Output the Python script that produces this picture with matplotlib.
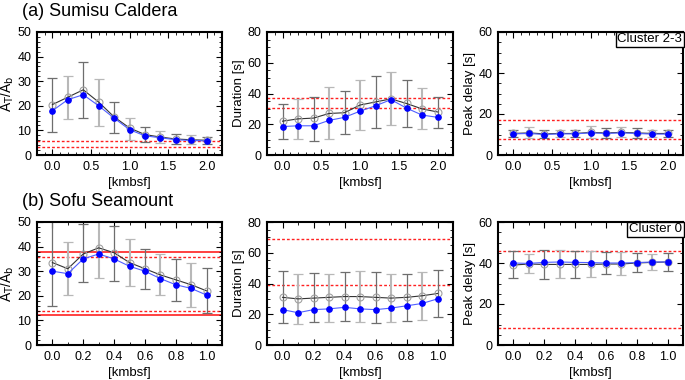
import matplotlib
matplotlib.use("Agg")
import matplotlib.pyplot as plt
from matplotlib.ticker import MultipleLocator, AutoMinorLocator
import numpy as np

# ---------------- data ----------------
x_a = [0.0, 0.2, 0.4, 0.6, 0.8, 1.0, 1.2, 1.4, 1.6, 1.8, 2.0]
x_b = [0.0, 0.1, 0.2, 0.3, 0.4, 0.5, 0.6, 0.7, 0.8, 0.9, 1.0]

# (a) Sumisu Caldera
ratio_a_open = [20.5, 23.5, 26.5, 21.5, 15.5, 11.0, 8.3, 7.3, 6.5, 6.2, 6.0]
ratio_a_blue = [18.0, 22.5, 24.5, 20.0, 15.0, 10.3, 7.8, 7.0, 6.2, 5.9, 5.7]
ratio_a_lo = [9.3, 14.8, 15.0, 11.8, 9.0, 6.3, 5.2, 4.8, 4.3, 4.3, 4.3]
ratio_a_hi = [31.5, 32.0, 37.8, 31.0, 21.5, 15.0, 11.3, 9.8, 8.5, 8.0, 7.5]
ratio_a_ref = [5.5, 3.3]

dur_a_open = [22.0, 23.5, 24.0, 27.0, 27.5, 32.5, 34.5, 36.5, 33.5, 30.0, 28.0]
dur_a_blue = [18.5, 19.0, 19.0, 22.5, 24.5, 28.5, 32.0, 36.0, 30.5, 26.0, 24.5]
dur_a_lo = [10.5, 10.5, 9.0, 10.5, 13.5, 16.0, 17.5, 19.5, 18.0, 17.0, 17.5]
dur_a_hi = [33.0, 36.5, 38.0, 44.0, 41.5, 48.5, 51.5, 54.0, 49.0, 43.5, 38.0]
dur_a_ref = [37.0, 30.5]

pk_a_open = [10.5, 10.8, 10.3, 10.5, 10.5, 11.0, 10.8, 11.0, 10.8, 10.5, 10.5]
pk_a_blue = [10.3, 10.5, 10.0, 10.3, 10.3, 10.8, 10.5, 10.8, 10.5, 10.2, 10.2]
pk_a_lo = [8.8, 8.5, 8.5, 8.8, 8.8, 8.3, 8.3, 8.8, 8.5, 8.8, 8.8]
pk_a_hi = [12.0, 13.5, 12.0, 12.0, 12.0, 14.0, 13.3, 13.5, 13.0, 12.0, 12.0]
pk_a_ref = [17.3, 7.8]

# (b) Sofu Seamount
ratio_b_open = [33.5, 31.0, 37.0, 39.5, 37.5, 33.5, 31.0, 28.5, 26.5, 24.5, 22.0]
ratio_b_blue = [30.0, 29.0, 35.0, 37.0, 35.0, 32.0, 30.0, 27.0, 24.5, 23.0, 20.3]
ratio_b_lo = [16.0, 20.3, 25.5, 27.2, 26.0, 24.0, 22.8, 20.3, 17.8, 15.3, 13.0]
ratio_b_hi = [52.0, 42.0, 49.0, 52.0, 48.5, 43.0, 39.0, 37.0, 35.0, 33.5, 31.3]
ratio_b_solid = [37.8, 12.3]
ratio_b_ref = [35.8, 14.0]

dur_b_open = [31.0, 30.0, 30.5, 31.0, 31.5, 31.5, 31.0, 30.5, 31.0, 32.0, 33.5]
dur_b_blue = [23.0, 21.0, 23.0, 23.5, 24.5, 23.5, 23.0, 24.0, 25.5, 27.0, 30.0]
dur_b_lo = [14.0, 13.5, 15.0, 15.0, 15.5, 15.0, 14.5, 15.0, 15.5, 16.5, 18.5]
dur_b_hi = [48.0, 46.0, 47.0, 46.5, 47.5, 48.0, 47.5, 46.5, 46.5, 47.5, 49.0]
dur_b_ref = [69.0, 39.0]

pk_b_open = [39.0, 39.5, 39.3, 39.3, 39.3, 39.3, 39.5, 39.5, 40.0, 40.3, 40.5]
pk_b_blue = [40.0, 39.8, 40.3, 40.5, 40.3, 40.2, 40.0, 40.0, 40.2, 40.5, 40.5]
pk_b_lo = [32.5, 35.0, 32.0, 32.5, 32.5, 33.0, 34.5, 34.0, 35.5, 36.5, 36.0]
pk_b_hi = [46.0, 44.5, 46.5, 46.5, 46.0, 46.0, 45.5, 45.5, 45.0, 44.5, 45.0]
pk_b_ref = [46.0, 8.3]

titles = ["(a) Sumisu Caldera", "(b) Sofu Seamount"]
clusters = ["Cluster 2-3", "Cluster 0"]

# ---------------- figure ----------------
plt.rcParams['font.family'] = ['Liberation Sans', 'DejaVu Sans']
fig = plt.figure(figsize=(6.85, 3.8), dpi=100)
W, H = 685.0, 380.0

def mkax(l, r, t, b):
    return fig.add_axes([l / W, 1 - b / H, (r - l) / W, (b - t) / H])

lefts = [(37, 222), (267, 453), (498, 683)]
rows = [(32, 155), (222, 345)]

def style(ax, xlim, ylim, ymaj, xmaj):
    ax.set_xlim(*xlim)
    ax.set_ylim(*ylim)
    ax.xaxis.set_major_locator(MultipleLocator(xmaj))
    ax.yaxis.set_major_locator(MultipleLocator(ymaj))
    ax.xaxis.set_minor_locator(AutoMinorLocator(5 if xmaj == 0.5 else 2))
    ax.yaxis.set_minor_locator(AutoMinorLocator(5 if ymaj == 10 else 4))
    ax.tick_params(which='both', direction='in', top=True, right=True,
                   labelsize=9, color='black', pad=4)
    ax.tick_params(which='major', length=4, width=0.8)
    ax.tick_params(which='minor', length=2, width=0.6)
    for s in ax.spines.values():
        s.set_linewidth(1.5)
    ax.set_xlabel("[kmbsf]", fontsize=9.5, labelpad=3)

def draw(ax, x, yo, yb, lo, hi):
    for i in range(len(x)):
        if i % 2 == 0:
            c, lw = '#6e6e6e', 0.9
        else:
            c, lw = '#b8b8b8', 1.5
        ax.errorbar([x[i]], [yb[i]], yerr=[[yb[i] - lo[i]], [hi[i] - yb[i]]],
                    fmt='none', ecolor=c, elinewidth=lw, capsize=3.5, capthick=0.9,
                    zorder=2, clip_on=True)
    ax.plot(x, yo, '-', color='#333333', lw=0.8, zorder=3)
    ax.plot(x, yo, 'o', ms=5, mfc='none', mec='#a0a0a0', mew=0.8, zorder=3)
    ax.plot(x, yb, '-', color='#5060ff', lw=0.8, zorder=4)
    ax.plot(x, yb, 'o', ms=3.8, mfc='#0000ff', mec='#0000ff', zorder=5)

def refs(ax, vals, ls=(0, (2, 1.5)), lw=1.0):
    for v in vals:
        ax.axhline(v, color='#ff2020', ls=ls, lw=lw, zorder=1)

data = [
    [(ratio_a_open, ratio_a_blue, ratio_a_lo, ratio_a_hi, ratio_a_ref),
     (dur_a_open, dur_a_blue, dur_a_lo, dur_a_hi, dur_a_ref),
     (pk_a_open, pk_a_blue, pk_a_lo, pk_a_hi, pk_a_ref)],
    [(ratio_b_open, ratio_b_blue, ratio_b_lo, ratio_b_hi, ratio_b_ref),
     (dur_b_open, dur_b_blue, dur_b_lo, dur_b_hi, dur_b_ref),
     (pk_b_open, pk_b_blue, pk_b_lo, pk_b_hi, pk_b_ref)],
]
ylims = [(0, 50), (0, 80), (0, 60)]
ymajs = [10, 20, 20]
ylabels = [r"A$_\mathrm{T}$/A$_\mathrm{b}$", "Duration [s]", "Peak delay [s]"]
ylsizes = [10, 9.5, 9.5]

for r, (t, b) in enumerate(rows):
    xs = x_a if r == 0 else x_b
    xlim = (-0.2, 2.2) if r == 0 else (-0.1, 1.1)
    xmaj = 0.5 if r == 0 else 0.2
    for c, (l, rr) in enumerate(lefts):
        ax = mkax(l, rr, t, b)
        yo, yb, lo, hi, rf = data[r][c]
        refs(ax, rf)
        if r == 1 and c == 0:
            refs(ax, ratio_b_solid, ls='-', lw=1.2)
        draw(ax, xs, yo, yb, lo, hi)
        style(ax, xlim, ylims[c], ymajs[c], xmaj)
        ax.set_ylabel(ylabels[c], fontsize=ylsizes[c], labelpad=1 if c == 0 else 2)
        if c == 0:
            ax.text(-0.08, 1.165, titles[r], transform=ax.transAxes,
                    fontsize=13, ha='left', va='center')
        if c == 2:
            ax.text(0.995, 0.99, clusters[r], transform=ax.transAxes,
                    fontsize=9.5, ha='right', va='top', zorder=10,
                    bbox=dict(boxstyle='square,pad=0.12', fc='white',
                              ec='black', lw=1.0))

fig.savefig("out.png", dpi=100)
